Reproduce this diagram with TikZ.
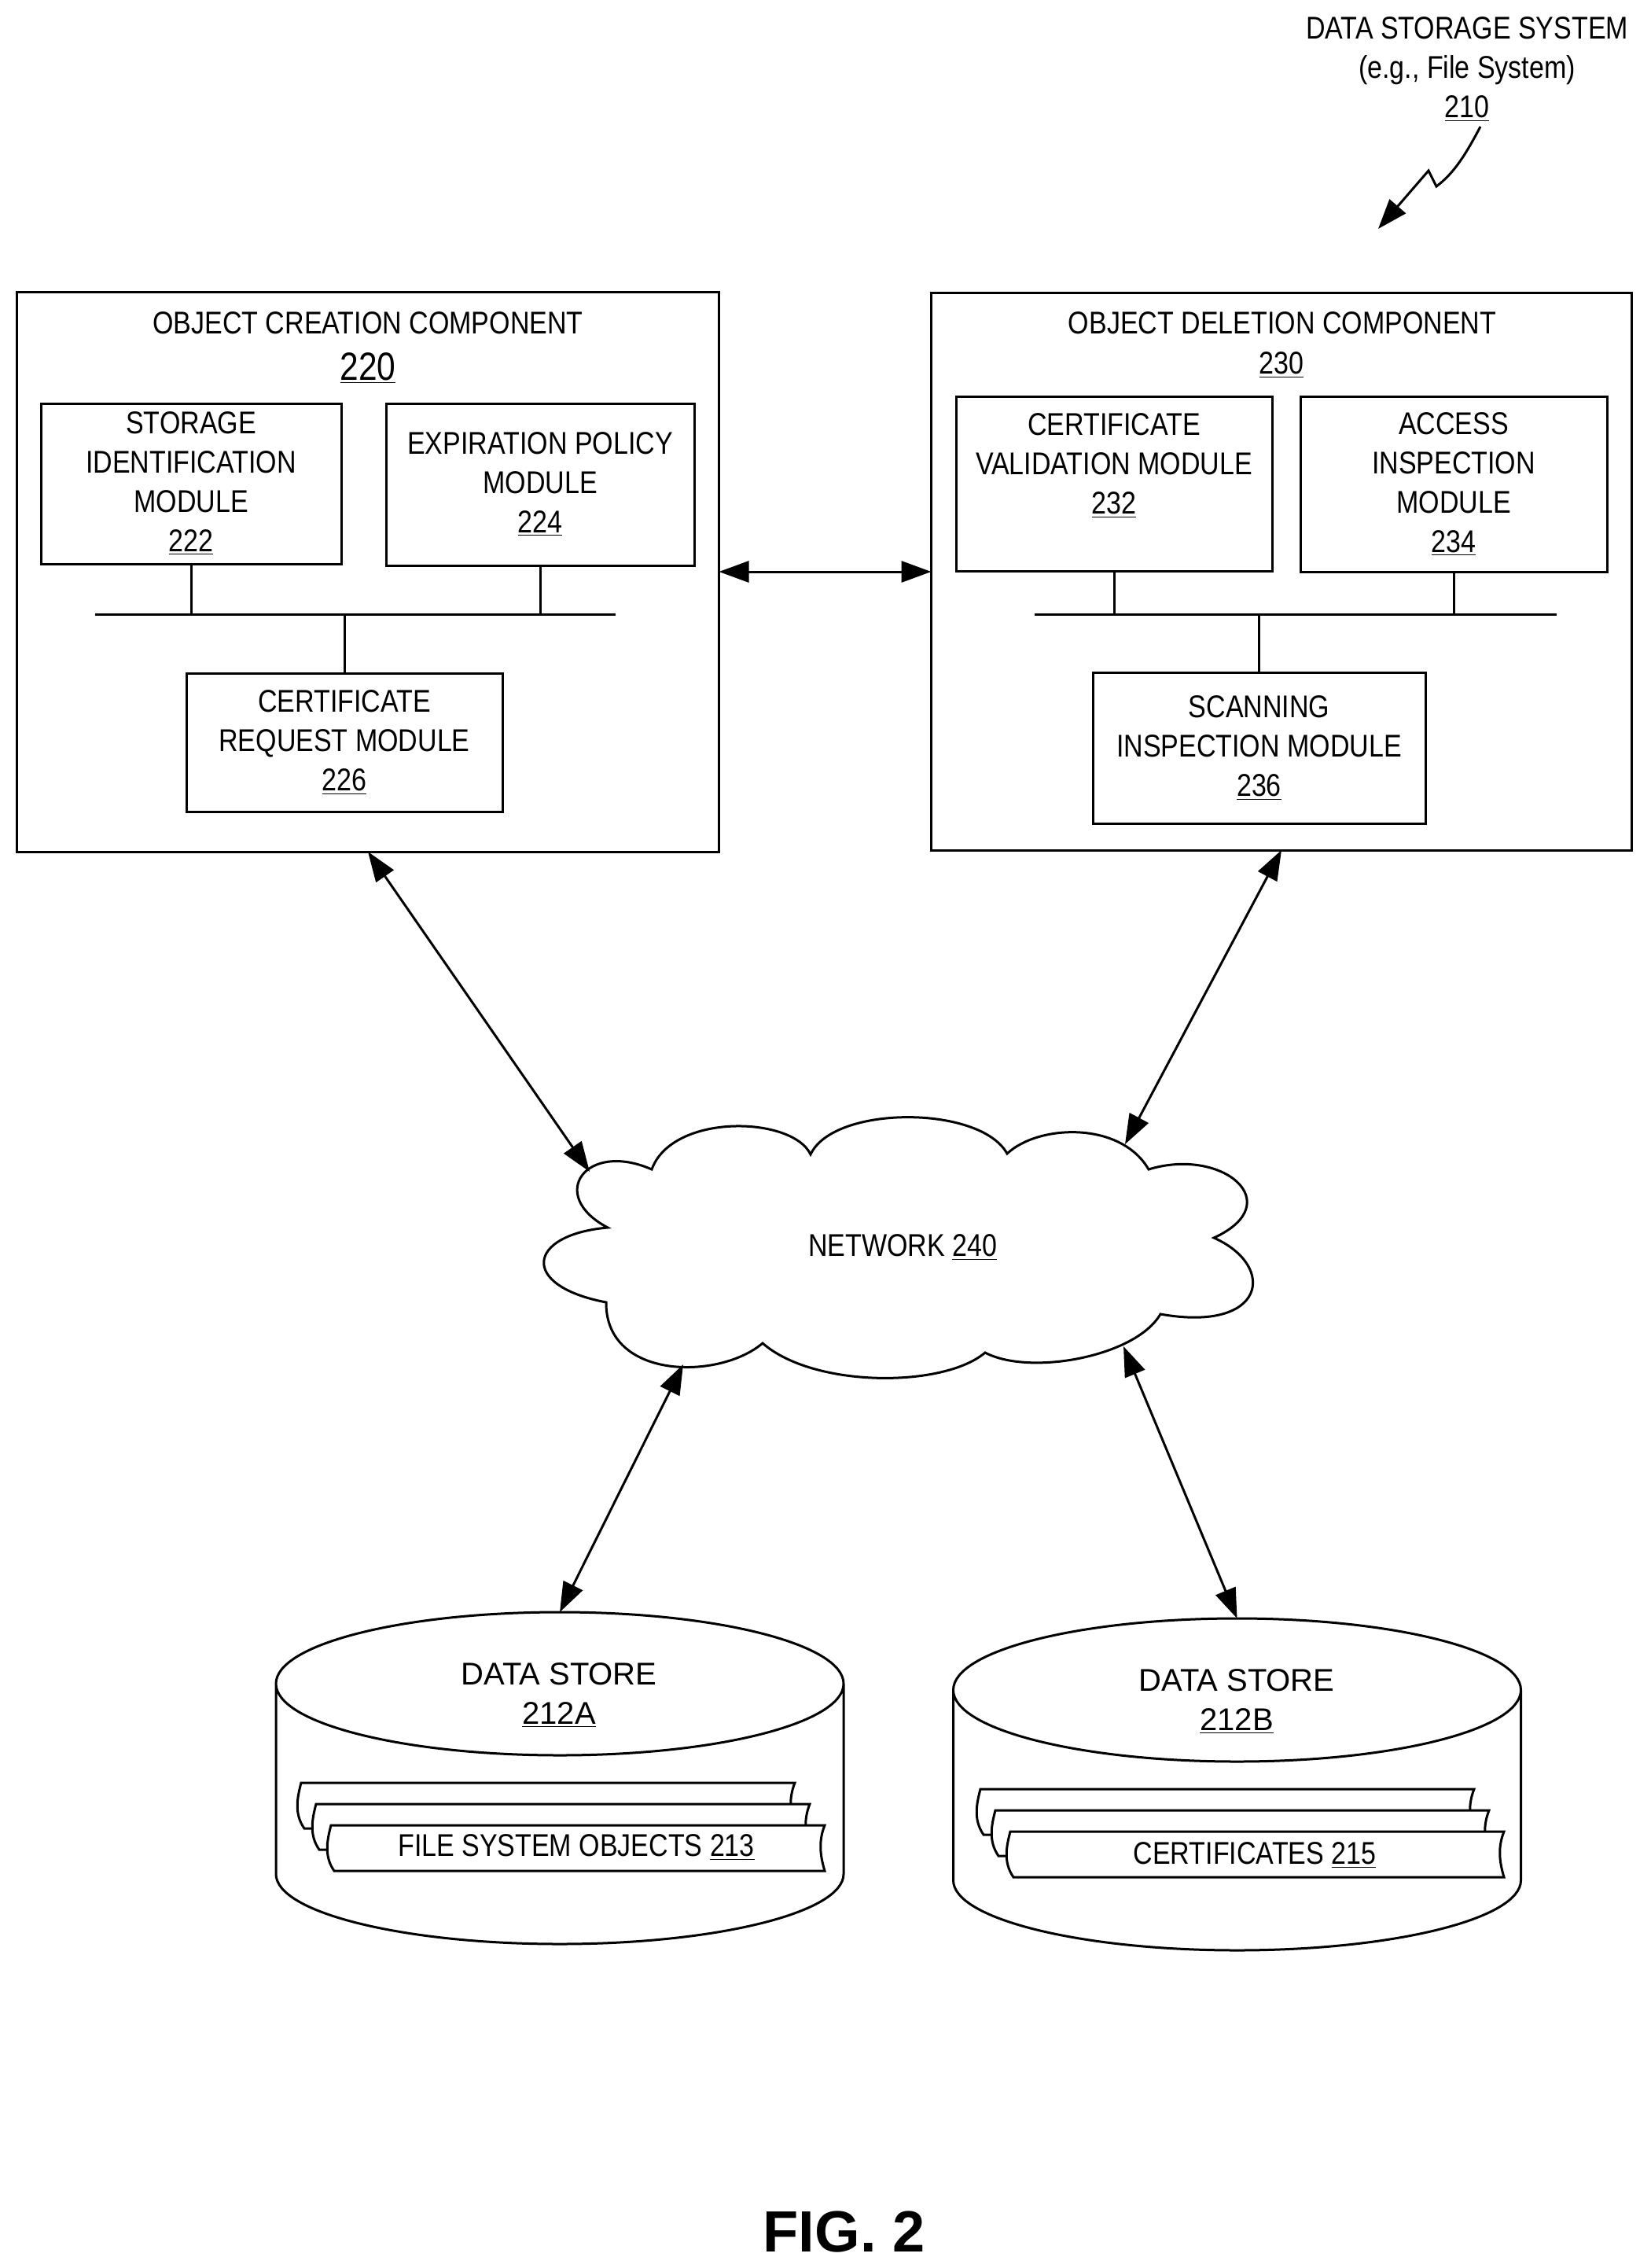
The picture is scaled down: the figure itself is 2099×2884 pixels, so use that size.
\documentclass[tikz,border=0pt]{standalone}
\usepackage{fontspec}
\setmainfont{Liberation Sans}
\newfontfamily\narrowfont[FakeStretch=0.85]{Liberation Sans}
\usetikzlibrary{positioning,calc,arrows.meta}
\tikzset{block/.style={draw, line width=1.5pt, inner sep=0pt, outer sep=0pt},
line/.style={line width=1.5pt},
link/.style={line width=1.5pt, {Triangle[length=19pt,width=13.5pt]}-{Triangle[length=19pt,width=13.5pt]}},
store/.style={minimum width=361pt, minimum height=211pt, inner sep=0pt, outer sep=0pt},
strip/.style={draw, line width=1.5pt, fill=white},
wide/.style={font=\fontsize{20}{25}\selectfont}
}
\newcommand{\paperstrip}[2]{\draw[strip, shift={(#1,#2)}] (0,0) -- (628,0) .. controls (620,20) and (622,38) .. (628,58) -- (4,58) .. controls (-10,38) and (-4,16) .. (0,0) -- cycle;}
\newcommand{\drum}[1]{\draw[line, shift={(#1)}] (0,-120) ellipse [x radius=361, y radius=91]
  (-361,-120) -- (-361,122) .. controls (-361,171) and (-199,211) .. (0,211) .. controls (199,211) and (361,171) .. (361,122) -- (361,-120);}

\begin{document}
\begin{tikzpicture}[x=0.5pt, y=-0.5pt, every node/.style={align=center, font=\narrowfont\fontsize{20}{25}\selectfont}]
    \useasboundingbox (0,0) rectangle (2099,2884);
    % Nodes
    \node (system) at (1866,88) {DATA STORAGE SYSTEM\\(e.g., File System)\\\underline{210}};
    \coordinate (ptrstart) at (1883,161);
    \coordinate (ptrtip) at (1753,291);

    \node [block, minimum width=446.5pt, minimum height=355.5pt] (creation) at (468,727.5) {};
    \node (creationtitle) at (468,411) {OBJECT CREATION COMPONENT};
    \node [font=\narrowfont\fontsize{25}{25}\selectfont] (creationnum) at (468,468) {\underline{220}};
    \node [block, minimum width=191pt, minimum height=102pt] (storageid) at (243,615) {STORAGE\\IDENTIFICATION\\MODULE\\\underline{222}};
    \node [block, minimum width=196pt, minimum height=103pt] (expiry) at (687,616) {EXPIRATION POLICY\\MODULE\\\underline{224}};
    \node [block, minimum width=201pt, minimum height=88pt] (request) at (438,944) {CERTIFICATE\\REQUEST MODULE\\\underline{226}};
    \coordinate (busAleft) at (121,781);
    \coordinate (busAright) at (783,781);

    \node [block, minimum width=445.5pt, minimum height=354pt] (deletion) at (1630,727) {};
    \node (deletiontitle) at (1631,411) {OBJECT DELETION COMPONENT};
    \node (deletionnum) at (1630,464) {\underline{230}};
    \node [block, minimum width=201pt, minimum height=111pt] (validation) at (1417,615) {CERTIFICATE\\VALIDATION MODULE\\\underline{232}\\~};
    \node [block, minimum width=195pt, minimum height=111.5pt] (access) at (1849,615.5) {ACCESS\\INSPECTION\\MODULE\\\underline{234}};
    \node [block, minimum width=211.5pt, minimum height=96pt] (scanning) at (1601.5,951) {SCANNING\\INSPECTION MODULE\\\underline{236}};
    \coordinate (busBleft) at (1316,781);
    \coordinate (busBright) at (1980,781);

    \node (network) at (1148,1586) {NETWORK \underline{240}};
    \coordinate (cloudA) at (750,1490);
    \coordinate (cloudB) at (1431,1455);
    \coordinate (cloudC) at (869,1735);
    \coordinate (cloudD) at (1429,1712);

    \node [store] (storeA) at (712,2261) {};
    \drum{712,2261}
    \node [wide] (storeAtext) at (711,2156) {DATA STORE\\\underline{212A}};
    \node [store] (storeB) at (1573.5,2269) {};
    \drum{1573.5,2269}
    \node [wide] (storeBtext) at (1573,2164) {DATA STORE\\\underline{212B}};

    \paperstrip{383}{2267}
    \paperstrip{402}{2294}
    \paperstrip{421}{2321}
    \node (objects) at (733,2349) {FILE SYSTEM OBJECTS \underline{213}};
    \paperstrip{1247}{2275}
    \paperstrip{1266}{2302}
    \paperstrip{1285}{2329}
    \node (certs) at (1596,2359) {CERTIFICATES \underline{215}};

    \node [font=\bfseries\fontsize{37}{37}\selectfont] (figlabel) at (1073.5,2838) {FIG. 2};

    % Cloud
    \draw [line] (773,1561) .. controls (695,1520) and (745,1450) .. (829,1487)
      .. controls (855,1415) and (1008,1419) .. (1031,1468)
      .. controls (1060,1405) and (1247,1405) .. (1281,1467)
      .. controls (1320,1430) and (1425,1425) .. (1461,1487)
      .. controls (1555,1458) and (1640,1530) .. (1544,1574)
      .. controls (1625,1610) and (1610,1695) .. (1476,1671)
      .. controls (1445,1725) and (1310,1750) .. (1253,1720)
      .. controls (1200,1765) and (1035,1765) .. (970,1708)
      .. controls (915,1755) and (770,1755) .. (771,1656)
      .. controls (660,1635) and (670,1570) .. (773,1561) -- cycle;

    % Lines
    \draw [line] (busAleft) -- (busAright);
    \draw [line] (storageid.south) -- (storageid.south |- busAleft);
    \draw [line] (expiry.south) -- (expiry.south |- busAleft);
    \draw [line] (request.north) -- (request.north |- busAleft);
    \draw [line] (busBleft) -- (busBright);
    \draw [line] (validation.south) -- (validation.south |- busBleft);
    \draw [line] (access.south) -- (access.south |- busBleft);
    \draw [line] (scanning.north) -- (scanning.north |- busBleft);
    % Arrows
    \draw [line, -{Triangle[length=19pt,width=13.5pt]}] (ptrstart) .. controls (1865,195) and (1850,220) .. (1827,237) -- (1817,217) -- (ptrtip);
    \draw [link] (creation.east |- access.south) -- (deletion.west |- access.south);
    \draw [link] (creation.south) -- (cloudA);
    \draw [link] (deletion.south) -- (cloudB);
    \draw [link] (cloudC) -- (storeA.north);
    \draw [link] (cloudD) -- (storeB.north);
\end{tikzpicture}
\end{document}
